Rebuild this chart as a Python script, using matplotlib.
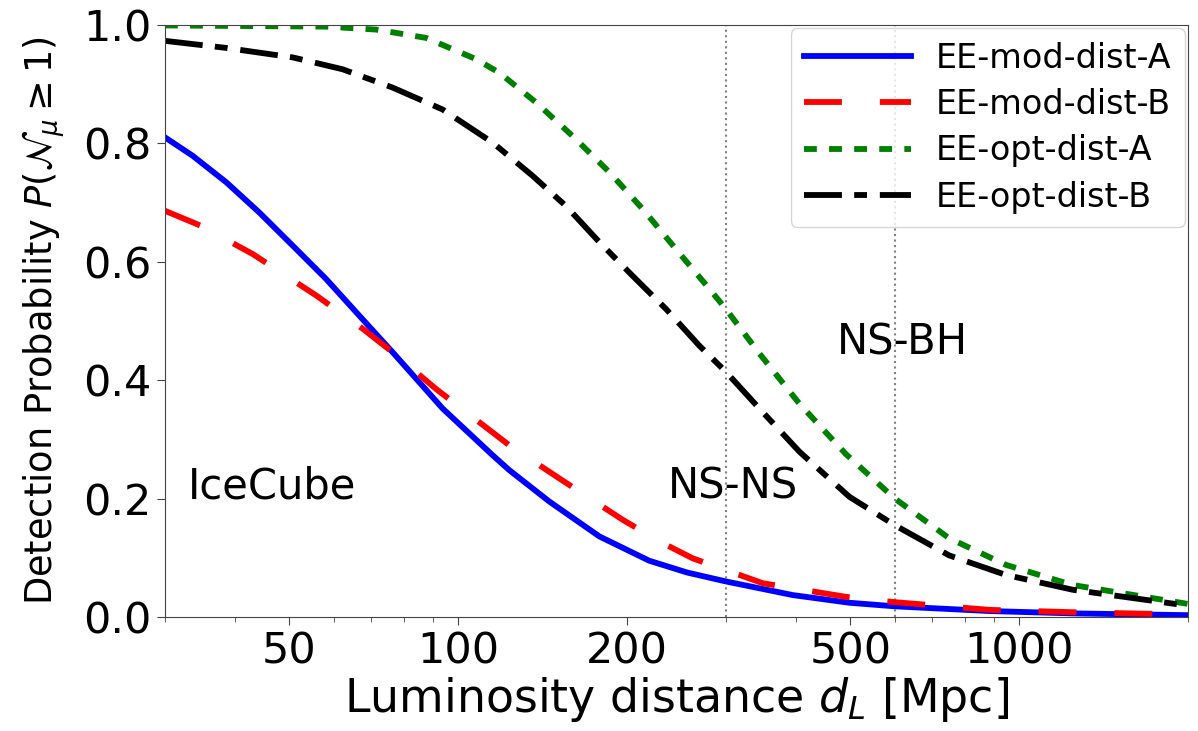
import numpy as np
import matplotlib
matplotlib.use("Agg")
import matplotlib.pyplot as plt
from matplotlib.ticker import FixedLocator, NullFormatter, FixedFormatter

# detection probability vs luminosity distance [Mpc]
modA_d = [30, 33.6, 38.6, 44.2, 50.7, 58.1, 66.6, 76.4, 93.8, 115.2, 123.3, 145.3,
          178.5, 219, 256, 300, 394.5, 498, 600, 885, 1250, 2000]
modA_p = [0.810, 0.779, 0.734, 0.683, 0.627, 0.571, 0.509, 0.447, 0.352, 0.273,
          0.248, 0.195, 0.136, 0.095, 0.075, 0.060, 0.037, 0.024, 0.018, 0.010,
          0.006, 0.003]

modB_d = [30, 34.7, 43.0, 55.8, 67.5, 76.4, 91.3, 123.3, 151.4, 196.5, 228, 261.8,
          349, 491, 600, 885, 1250, 2000]
modB_p = [0.686, 0.661, 0.613, 0.543, 0.487, 0.447, 0.385, 0.290, 0.234, 0.164,
          0.128, 0.099, 0.057, 0.034, 0.025, 0.012, 0.008, 0.004]

optA_d = [30, 58.1, 71.4, 87.6, 107.6, 118.4, 137.6, 160, 186, 213.2, 244.5, 280.4,
          300, 344.2, 405.8, 491, 600, 750, 947, 1245, 2000]
optA_p = [0.999, 0.997, 0.992, 0.978, 0.942, 0.919, 0.869, 0.812, 0.751, 0.689,
          0.621, 0.554, 0.520, 0.445, 0.360, 0.275, 0.200, 0.133, 0.088, 0.054, 0.022]

optB_d = [30, 38.6, 50.7, 62.2, 76.4, 93.8, 115.2, 135.7, 155.6, 178.5, 204.6, 234.7,
          269.1, 300, 344.2, 405.8, 498, 600, 750, 947, 1245, 2000]
optB_p = [0.973, 0.961, 0.945, 0.925, 0.894, 0.857, 0.801, 0.745, 0.694, 0.633,
          0.576, 0.520, 0.458, 0.414, 0.352, 0.279, 0.203, 0.155, 0.104, 0.071,
          0.046, 0.019]

vlines = [300, 600]
major_ticks = [50, 100, 200, 500, 1000]
minor_ticks = [30, 40, 60, 70, 80, 90, 300, 400, 600, 700, 800, 900, 2000]
labels = [("IceCube", 33, 0.2), ("NS-NS", 236, 0.2), ("NS-BH", 474, 0.443)]

fig = plt.figure(figsize=(11.98, 7.31), dpi=100)
ax = fig.add_axes([0.1377, 0.156, 0.854, 0.81])

lw = 4.2
ax.plot(modA_d, modA_p, color="#0000ff", lw=lw, label="EE-mod-dist-A")
ax.plot(modB_d, modB_p, color="#ff0000", lw=lw, dashes=(6.5, 6.5), label="EE-mod-dist-B")
ax.plot(optA_d, optA_p, color="#008000", lw=lw, dashes=(2.2, 2.1), label="EE-opt-dist-A")
ax.plot(optB_d, optB_p, color="black", lw=lw, dashes=(6.5, 2.1, 2.2, 2.2),
        label="EE-opt-dist-B")
for v in vlines:
    ax.axvline(v, color="gray", ls=":", lw=1.5, zorder=1)

for txt, x, y in labels:
    ax.text(x, y, txt, fontsize=30, va="baseline", ha="left")

ax.set_xscale("log")
ax.set_xlim(30, 2000)
ax.set_ylim(0, 1)
ax.xaxis.set_major_locator(FixedLocator(major_ticks))
ax.xaxis.set_major_formatter(FixedFormatter([str(t) for t in major_ticks]))
ax.xaxis.set_minor_locator(FixedLocator(minor_ticks))
ax.xaxis.set_minor_formatter(NullFormatter())
ax.set_yticks([0.0, 0.2, 0.4, 0.6, 0.8, 1.0])
ax.tick_params(axis="both", which="major", labelsize=31, length=6, color="#444")
ax.tick_params(axis="x", which="minor", length=3.5, color="#444")
for s in ax.spines.values():
    s.set_color("#444")

ax.set_xlabel("Luminosity distance $d_L$ [Mpc]", fontsize=33, labelpad=2)
ax.set_ylabel(r"Detection Probability $P(\mathcal{N}_\mu \geq 1)$", fontsize=26.5,
              labelpad=12)

ax.legend(loc="upper right", fontsize=24, handlelength=3.2, handletextpad=0.75,
          borderaxespad=0.1, labelspacing=0.4)

fig.savefig("out.png", dpi=100)
